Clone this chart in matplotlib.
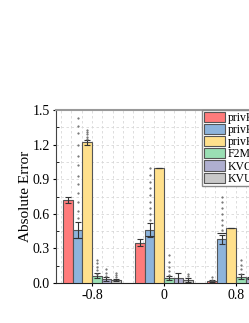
import numpy as np
import matplotlib.pyplot as plt
from matplotlib.ticker import MultipleLocator, AutoMinorLocator

plt.rcParams['font.family'] = ['Liberation Serif', 'DejaVu Serif']

groups = ['-0.8', '0', '0.8']
methods = ['privKV', 'privKVM', 'privKVM*', 'F2M', 'KVOH', 'KVUE']
colors = ['#FF7B7B', '#8DB4DC', '#FFE08C', '#9ADFB4', '#AFAFD0', '#C8C8C8']

# mean absolute error per method, one entry per group
means = {
    'privKV':   [0.72, 0.35, 0.015],
    'privKVM':  [0.46, 0.46, 0.38],
    'privKVM*': [1.22, 1.00, 0.48],
    'F2M':      [0.065, 0.045, 0.055],
    'KVOH':     [0.035, 0.04, 0.045],
    'KVUE':     [0.025, 0.025, 0.02],
}
errs = {
    'privKV':   [0.03, 0.03, 0.008],
    'privKVM':  [0.07, 0.06, 0.04],
    'privKVM*': [0.02, 0.0, 0.0],
    'F2M':      [0.02, 0.02, 0.02],
    'KVOH':     [0.015, 0.05, 0.01],
    'KVUE':     [0.01, 0.02, 0.01],
}
medians_kvm = [0.39, 0.41, 0.43]

# individual runs shown as small dots above the bars
runs = {
    ('privKVM', 0): [1.43, 1.36, 1.30, 1.20, 1.10, 1.02, 0.93, 0.86, 0.78, 0.70, 0.62, 0.56],
    ('privKVM*', 0): [1.25, 1.27, 1.29, 1.31, 1.33],
    ('F2M', 0): [0.08, 0.11, 0.14, 0.17, 0.20],
    ('KVOH', 0): [0.06, 0.09, 0.12],
    ('KVUE', 0): [0.05, 0.07, 0.09],
    ('privKVM', 1): [0.55, 0.60, 0.65, 0.70, 0.76, 0.82, 0.88, 0.94, 1.00],
    ('F2M', 1): [0.07, 0.10, 0.14, 0.18, 0.24],
    ('KVUE', 1): [0.06, 0.08],
    ('privKV', 2): [0.03, 0.05],
    ('privKVM', 2): [0.46, 0.50, 0.55, 0.60, 0.65, 0.70, 0.75],
    ('F2M', 2): [0.08, 0.12, 0.16, 0.20],
}

fig = plt.figure(figsize=(2.49, 3.23), dpi=100)
ax = fig.add_axes([56 / 249, 40 / 323, 216 / 249, 173 / 323])

x = np.arange(len(groups))
w = 0.132
for i, m in enumerate(methods):
    xs = x + (i - 2.5) * w
    ax.bar(xs, means[m], w, color=colors[i], edgecolor='#555555', linewidth=0.8,
           label=m, zorder=3)
    ax.errorbar(xs, means[m], yerr=errs[m], fmt='none', ecolor='#333333',
                elinewidth=0.8, capsize=2.5, capthick=0.8, zorder=4)
    for g in range(len(groups)):
        pts = runs.get((m, g))
        if pts:
            ax.scatter([xs[g]] * len(pts), pts, s=0.3, color='#666666', zorder=5)

xk = x + (1 - 2.5) * w
ax.hlines(medians_kvm, xk - w / 2, xk + w / 2, colors='#333333', linewidth=0.8, zorder=4)

ax.set_xlim(-0.5, 2.5)
ax.set_ylim(0, 1.5)
ax.set_xticks(x)
ax.set_xticklabels(groups)
ax.yaxis.set_major_locator(MultipleLocator(0.3))
ax.yaxis.set_minor_locator(MultipleLocator(0.15))
ax.xaxis.set_minor_locator(AutoMinorLocator(7))
ax.yaxis.set_major_formatter(plt.FormatStrFormatter('%.1f'))
ax.tick_params(axis='both', which='major', direction='out', length=2.5, labelsize=10, pad=2)
ax.tick_params(axis='x', which='minor', length=0)
ax.tick_params(axis='y', which='minor', direction='in', length=2)
ax.grid(True, which='both', linestyle=(0, (3, 3)), color='#d8d8d8', linewidth=0.6, zorder=0)
ax.set_ylabel('Absolute Error', fontsize=11, labelpad=0)

ax.spines['top'].set_color('#999999')
ax.spines['top'].set_linewidth(1.5)
ax.spines['right'].set_color('#999999')
ax.spines['left'].set_color('#444444')
ax.spines['bottom'].set_color('#222222')

ax.legend(loc='upper left', bbox_to_anchor=(202 / 249, 1 - 110 / 323),
          bbox_transform=fig.transFigure, fontsize=8.5, frameon=True, fancybox=False,
          edgecolor='#888888', framealpha=1, borderaxespad=0, borderpad=0.15,
          labelspacing=0.0, handlelength=1.8, handleheight=0.95, handletextpad=0.25)

fig.savefig('out.png', dpi=100)
